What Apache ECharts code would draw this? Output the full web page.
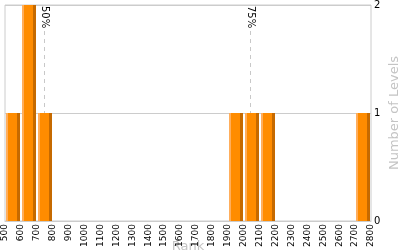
<!DOCTYPE html>
<html><head><meta charset="utf-8">
<script src="https://cdn.jsdelivr.net/npm/echarts@6/dist/echarts.min.js"></script>
<style>html,body{margin:0;padding:0;background:#fff}#c{width:400px;height:250px}</style>
</head><body><div id="c"></div>
<script>
var binStarts = [500, 600, 700, 1900, 2000, 2100, 2700];
var binWidth = 100;
var counts = [1, 2, 1, 1, 1, 1, 1];
var percentileLabels = ['50%', '75%'];
var percentileValues = [745, 2040];

var barData = binStarts.map(function (s, i) { return [s, s + binWidth, counts[i]]; });
var pctData = percentileValues.map(function (v, i) { return [v, percentileLabels[i]]; });

var grad = new echarts.graphic.LinearGradient(0, 0, 1, 0, [
  {offset: 0, color: '#ffae5c'}, {offset: 0.15, color: '#ffae5c'},
  {offset: 0.15, color: '#ff8c00'}, {offset: 0.79, color: '#ff8c00'},
  {offset: 0.79, color: '#c66a00'}, {offset: 1, color: '#c66a00'}
]);

var chart = echarts.init(document.getElementById('c'), null, {renderer: 'canvas'});
chart.setOption({
  animation: false,
  grid: {left: 5, right: 29, top: 5, bottom: 29, show: true, borderColor: '#cccccc', borderWidth: 1, backgroundColor: '#fff', containLabel: false, outerBoundsMode: 'none'},
  xAxis: {
    type: 'value', min: 500, max: 2800, interval: 100,
    name: 'Rank', nameLocation: 'middle', nameGap: 19, nameMoveOverlap: false,
    nameTextStyle: {color: '#c4c4c4', fontSize: 13, fontFamily: 'DejaVu Sans', verticalAlign: 'top'},
    axisLine: {show: true, lineStyle: {color: '#cccccc'}},
    axisTick: {show: false},
    splitLine: {show: false},
    axisLabel: {rotate: 90, fontSize: 9, color: '#000', fontFamily: 'DejaVu Sans', margin: 3,
      formatter: function (v) { return String(v); }}
  },
  yAxis: {
    type: 'value', min: 0, max: 2, interval: 1, position: 'right',
    name: 'Number of Levels', nameLocation: 'middle', nameGap: 17, nameRotate: 90, nameMoveOverlap: false,
    nameTextStyle: {color: '#c4c4c4', fontSize: 13, fontFamily: 'DejaVu Sans'},
    axisLine: {show: false}, axisTick: {show: false},
    splitLine: {show: true, lineStyle: {color: '#cccccc'}},
    axisLabel: {fontSize: 10, color: '#000', fontFamily: 'DejaVu Sans', margin: 3}
  },
  series: [{
    type: 'custom',
    data: pctData,
    z: 1,
    renderItem: function (params, api) {
      var x = api.coord([api.value(0), 0])[0];
      var bottom = api.coord([api.value(0), 0])[1];
      var top = api.coord([api.value(0), 2])[1];
      var label = percentileLabels[params.dataIndex];
      x = Math.round(x) + 0.5;
      return {
        type: 'group',
        children: [{
          type: 'line',
          shape: {x1: x, y1: top + 26, x2: x, y2: bottom},
          style: {stroke: '#c8c8c8', lineWidth: 1, lineDash: [4, 4]}
        }, {
          type: 'text',
          x: x, y: top + 1,
          rotation: -Math.PI / 2,
          style: {text: label, fill: '#000', fontSize: 10, fontFamily: 'DejaVu Sans', align: 'left', verticalAlign: 'middle'}
        }]
      };
    }
  }, {
    type: 'custom',
    data: barData,
    z: 2,
    renderItem: function (params, api) {
      var p0 = api.coord([api.value(0), 0]);
      var p1 = api.coord([api.value(1), api.value(2)]);
      var x0 = Math.round(p0[0]) + 1, x1 = Math.round(p1[0]) - 1;
      return {
        type: 'rect',
        shape: {x: x0, y: Math.round(p1[1]), width: x1 - x0, height: Math.round(p0[1]) - Math.round(p1[1])},
        style: {fill: grad}
      };
    }
  }]
});
</script></body></html>
